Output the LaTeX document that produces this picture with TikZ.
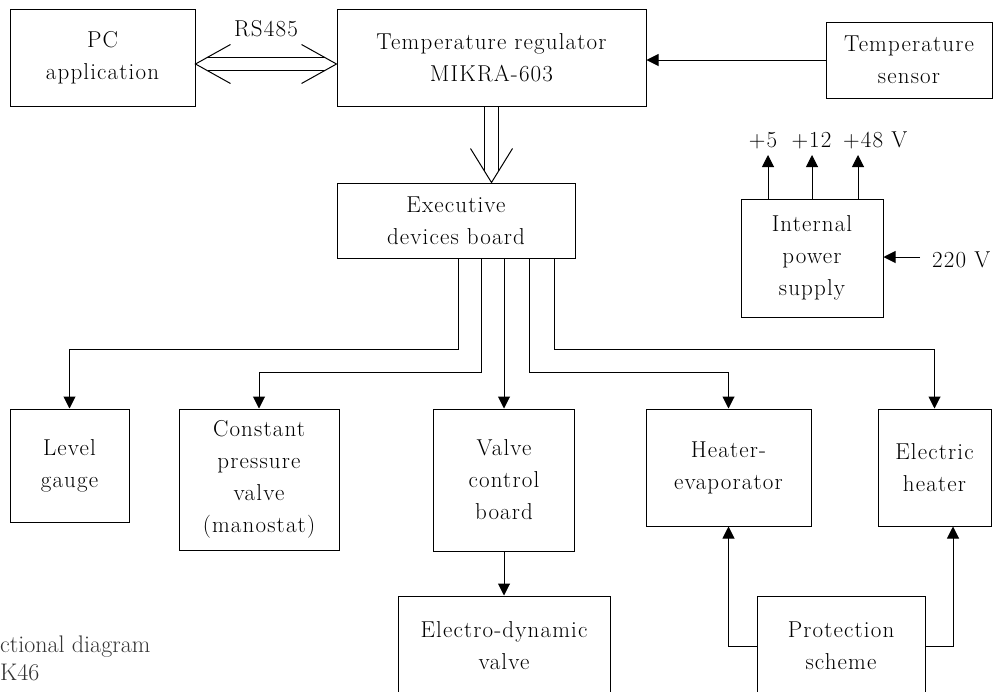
\documentclass[tikz,border=0pt]{standalone}
\usepackage{fontspec}
\setmainfont{Latin Modern Roman}
\newfontfamily\diagfont{Latin Modern Roman}[LetterSpace=5]
\usetikzlibrary{arrows.meta,calc}
\begin{document}
\begin{tikzpicture}[x=1pt,y=-1pt,
  box/.style={draw, line width=1pt, inner sep=0pt, align=center, font=\diagfont\fontsize{23}{32}\selectfont},
  lbl/.style={inner sep=0pt, font=\diagfont\fontsize{23}{32}\selectfont},
  captext/.style={inner sep=0pt, text=black!80, font=\fontsize{24}{28}\selectfont},
  arr/.style={line width=1pt, -{Triangle[length=12pt,width=12pt]}},
  ln/.style={line width=1pt}]
\useasboundingbox (0,0) rectangle (1004,691);
\clip (0,0) rectangle (1004,691);

% boxes
\node[box, minimum width=185pt, minimum height=97pt] (pc) at (102.5,57.5) {PC\\application};
\node[box, minimum width=309pt, minimum height=97pt] (reg) at (491.5,57.5) {Temperature regulator\\MIKRA-603};
\node[box, minimum width=166pt, minimum height=76pt] (sensor) at (909,60) {Temperature\\sensor};
\node[box, minimum width=238pt, minimum height=75pt] (exec) at (456,220.5) {Executive\\devices board};
\node[box, minimum width=142pt, minimum height=118pt] (psu) at (812,258) {Internal\\power\\supply};
\node[box, minimum width=119pt, minimum height=113pt] (level) at (69.5,465.5) {Level\\gauge};
\node[box, minimum width=160pt, minimum height=141pt] (const) at (259,479.5) {Constant\\pressure\\valve\\(manostat)};
\node[box, minimum width=141pt, minimum height=142pt] (vcb) at (504,480) {Valve\\control\\board};
\node[box, minimum width=165pt, minimum height=117pt] (heat) at (728.5,467.5) {Heater-\\evaporator};
\node[box, minimum width=113pt, minimum height=117pt] (eheat) at (934.5,467.5) {Electric\\heater};
\node[box, minimum width=212pt, minimum height=100pt] (edv) at (504,646) {Electro-dynamic\\valve};
\node[box, minimum width=168pt, minimum height=100pt] (prot) at (841,646) {Protection\\scheme};

% labels
\node[lbl] (rs485) at (266,29) {RS485};
\node[lbl, anchor=base] (p5) at (763,147) {+5};
\node[lbl, anchor=base] (p12) at (811.5,147) {+12};
\node[lbl, anchor=base west] (p48) at (843,147) {+48 V};
\node[lbl, anchor=base west] (v220) at (932,267) {220 V};
\node[captext, anchor=base west] (cap1) at (0,652) {ctional diagram};
\node[captext, anchor=base west] (cap2) at (0,680) {K46};

% RS485 double arrow
\coordinate (rs) at (266,64);
\coordinate (rsl) at (pc.east |- rs);
\coordinate (rsr) at (reg.west |- rs);
\draw[ln] ($(rsl)+(12,-6.7)$) -- ($(rsr)+(-12,-6.7)$);
\draw[ln] ($(rsl)+(12,6.7)$) -- ($(rsr)+(-12,6.7)$);
\draw[ln] ($(rsl)+(35,-19.5)$) -- (rsl) -- ($(rsl)+(35,19.5)$);
\draw[ln] ($(rsr)+(-35,-19.5)$) -- (rsr) -- ($(rsr)+(-35,19.5)$);

% regulator -> executive board (double arrow)
\coordinate (dt) at (reg.south |- exec.north);
\draw[ln] ([xshift=-7pt]reg.south) -- ($(dt)+(-7,-11.3)$);
\draw[ln] ([xshift=7pt]reg.south) -- ($(dt)+(7,-11.3)$);
\draw[ln] ($(dt)+(-21,-34)$) -- (dt) -- ($(dt)+(21,-34)$);

% sensor -> regulator
\draw[arr] (sensor.west) -- (sensor.west -| reg.east);

% power supply
\coordinate (t5) at (768,155);
\coordinate (t12) at (812,155);
\coordinate (t48) at (858,155);
\draw[arr] (psu.north -| t5) -- (t5);
\draw[arr] (psu.north -| t12) -- (t12);
\draw[arr] (psu.north -| t48) -- (t48);
\coordinate (c220) at (920,257);
\draw[arr] (c220) -- (c220 -| psu.east);

% executive board leads
\coordinate (l1) at (458,349.5);
\coordinate (l2) at (481,372);
\coordinate (l4) at (529,372);
\coordinate (l5) at (554,349.5);
\draw[arr] (exec.south -| l1) -- (l1) -- (l1 -| level.north) -- (level.north);
\draw[arr] (exec.south -| l2) -- (l2) -- (l2 -| const.north) -- (const.north);
\draw[arr] (exec.south -| vcb.north) -- (vcb.north);
\draw[arr] (exec.south -| l4) -- (l4) -- (l4 -| heat.north) -- (heat.north);
\draw[arr] (exec.south -| l5) -- (l5) -- (l5 -| eheat.north) -- (eheat.north);

% valve control -> electro-dynamic valve
\draw[arr] (vcb.south) -- (edv.north);

% protection scheme
\coordinate (pr) at (953,646);
\draw[arr] (prot.west) -- (prot.west -| heat.south) -- (heat.south);
\draw[arr] (prot.east) -- (prot.east -| pr) -- (pr |- eheat.south);
\end{tikzpicture}
\end{document}
